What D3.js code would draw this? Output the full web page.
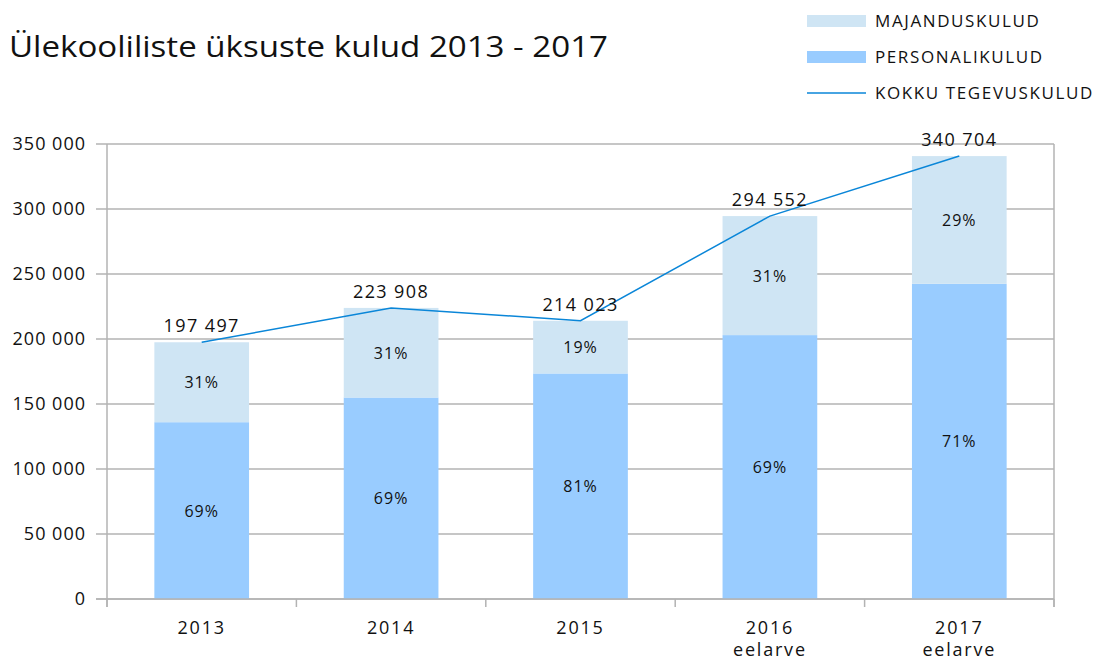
<!DOCTYPE html>
<html>
<head>
<meta charset="utf-8">
<script src="https://cdn.jsdelivr.net/npm/d3@7"></script>
<style>
  body { margin: 0; background: #fff; }
  svg { font-family: "Open Sans", "Noto Sans", sans-serif; }
</style>
</head>
<body>
<div id="chart"></div>
<script>
const years = ['2013', '2014', '2015', '2016', '2017']
const subLabels = ['', '', '', 'eelarve', 'eelarve']
const totals = [197497, 223908, 214023, 294552, 340704]
const personal = [136000, 155000, 173500, 203000, 242500]
const yTicks = [0, 50000, 100000, 150000, 200000, 250000, 300000, 350000]

const majandus = totals.map((t, i) => t - personal[i])

const width = 1095, height = 662
const margin = { top: 144, right: 41, bottom: 63, left: 107 }

const svg = d3.select('#chart').append('svg')
    .attr('width', width)
    .attr('height', height)

const x = d3.scaleBand()
    .domain(years)
    .range([margin.left, width - margin.right])
    .paddingInner(0.5)
    .paddingOuter(0.25)

const y = d3.scaleLinear()
    .domain([0, 350000])
    .range([height - margin.bottom, margin.top])

const fmt = v => d3.format(',')(v).replace(/,/g, ' ')

// gridlines + y axis
svg.append('g')
    .selectAll('line')
    .data(yTicks)
    .enter().append('line')
    .attr('x1', margin.left - 11)
    .attr('x2', width - margin.right)
    .attr('y1', d => y(d))
    .attr('y2', d => y(d))
    .attr('stroke', '#b3b3b3')
    .attr('stroke-width', 1.5)

svg.append('g')
    .selectAll('text')
    .data(yTicks)
    .enter().append('text')
    .attr('x', margin.left - 21)
    .attr('y', d => y(d) + 6)
    .attr('text-anchor', 'end')
    .attr('font-size', 18)
    .attr('letter-spacing', 1)
    .attr('fill', '#111')
    .text(d => fmt(d))

// plot frame
svg.append('line')
    .attr('x1', margin.left).attr('x2', margin.left)
    .attr('y1', margin.top).attr('y2', height - margin.bottom + 8)
    .attr('stroke', '#b3b3b3').attr('stroke-width', 1.5)
svg.append('line')
    .attr('x1', width - margin.right).attr('x2', width - margin.right)
    .attr('y1', margin.top).attr('y2', height - margin.bottom + 8)
    .attr('stroke', '#b3b3b3').attr('stroke-width', 1.5)

// x ticks at band boundaries
const bounds = d3.range(years.length + 1).map(i => margin.left + i * (width - margin.right - margin.left) / years.length)
svg.append('g')
    .selectAll('line')
    .data(bounds)
    .enter().append('line')
    .attr('x1', d => d).attr('x2', d => d)
    .attr('y1', y(0)).attr('y2', y(0) + 8)
    .attr('stroke', '#b3b3b3').attr('stroke-width', 1.5)

// bars
const bars = svg.append('g')
bars.selectAll('.pers')
    .data(years)
    .enter().append('rect')
    .attr('class', 'pers')
    .attr('x', d => x(d))
    .attr('width', x.bandwidth())
    .attr('y', (d, i) => y(personal[i]))
    .attr('height', (d, i) => y(0) - y(personal[i]))
    .attr('fill', '#99ccff')

bars.selectAll('.maj')
    .data(years)
    .enter().append('rect')
    .attr('class', 'maj')
    .attr('x', d => x(d))
    .attr('width', x.bandwidth())
    .attr('y', (d, i) => y(totals[i]))
    .attr('height', (d, i) => y(personal[i]) - y(totals[i]))
    .attr('fill', '#cfe5f4')

// redraw x baseline over bars
svg.append('line')
    .attr('x1', margin.left - 11).attr('x2', width - margin.right)
    .attr('y1', y(0)).attr('y2', y(0))
    .attr('stroke', '#b3b3b3').attr('stroke-width', 1.5)

// percent labels
const pct = (v, i) => Math.round(v / totals[i] * 100) + '%'
bars.selectAll('.pl')
    .data(years)
    .enter().append('text')
    .attr('x', d => x(d) + x.bandwidth() / 2)
    .attr('y', (d, i) => (y(0) + y(personal[i])) / 2 + 6)
    .attr('text-anchor', 'middle')
    .attr('font-size', 16)
    .attr('letter-spacing', 1)
    .attr('fill', '#111')
    .text((d, i) => pct(personal[i], i))

bars.selectAll('.ml')
    .data(years)
    .enter().append('text')
    .attr('x', d => x(d) + x.bandwidth() / 2)
    .attr('y', (d, i) => (y(personal[i]) + y(totals[i])) / 2 + 6)
    .attr('text-anchor', 'middle')
    .attr('font-size', 16)
    .attr('letter-spacing', 1)
    .attr('fill', '#111')
    .text((d, i) => pct(majandus[i], i))

// total line
const line = d3.line()
    .x((d, i) => x(years[i]) + x.bandwidth() / 2)
    .y(d => y(d))

svg.append('path')
    .datum(totals)
    .attr('d', line)
    .attr('fill', 'none')
    .attr('stroke', '#0a86d8')
    .attr('stroke-width', 1.5)

svg.append('g')
    .selectAll('text')
    .data(totals)
    .enter().append('text')
    .attr('x', (d, i) => x(years[i]) + x.bandwidth() / 2)
    .attr('y', d => y(d) - 10)
    .attr('text-anchor', 'middle')
    .attr('font-size', 18)
    .attr('letter-spacing', 1.4)
    .attr('fill', '#111')
    .text(d => fmt(d))

// x labels
const xl = svg.append('g')
    .attr('font-size', 18)
    .attr('letter-spacing', 1.8)
    .attr('fill', '#111')
xl.selectAll('.yr')
    .data(years)
    .enter().append('text')
    .attr('x', d => x(d) + x.bandwidth() / 2)
    .attr('y', 634)
    .attr('text-anchor', 'middle')
    .text(d => d)
xl.selectAll('.sub')
    .data(years)
    .enter().append('text')
    .attr('x', (d, i) => x(d) + x.bandwidth() / 2)
    .attr('y', 656)
    .attr('text-anchor', 'middle')
    .text((d, i) => subLabels[i])

// title
svg.append('text')
    .attr('x', 9)
    .attr('y', 57)
    .attr('font-size', 29)
    .attr('textLength', 599)
    .attr('lengthAdjust', 'spacingAndGlyphs')
    .attr('fill', '#111')
    .text('Ülekooliliste üksuste kulud 2013 - 2017')

// legend
const legend = [
    { name: 'MAJANDUSKULUD', type: 'rect', color: '#cfe5f4' },
    { name: 'PERSONALIKULUD', type: 'rect', color: '#99ccff' },
    { name: 'KOKKU TEGEVUSKULUD', type: 'line', color: '#0a86d8' }
]
const lg = svg.append('g')
legend.forEach((l, i) => {
    const cy = 21 + i * 36
    if (l.type === 'rect') {
        lg.append('rect').attr('x', 807).attr('y', cy - 6).attr('width', 59).attr('height', 12).attr('fill', l.color)
    } else {
        lg.append('line').attr('x1', 807).attr('x2', 866).attr('y1', cy).attr('y2', cy)
            .attr('stroke', l.color).attr('stroke-width', 1.5)
    }
    lg.append('text').attr('x', 875).attr('y', cy + 6).attr('font-size', 17)
        .attr('letter-spacing', 1.6).attr('fill', '#111').text(l.name)
})
</script>
</body>
</html>
